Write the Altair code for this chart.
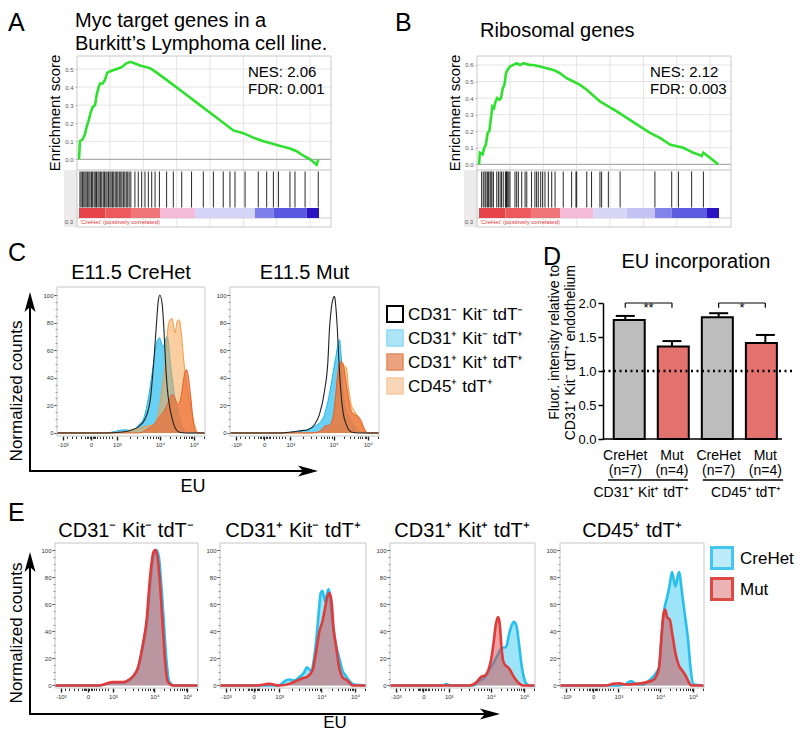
import altair as alt
import pandas as pd

FONT = "Liberation Sans, Arial, Helvetica, sans-serif"
W, H = 786, 724
OX, OY = 8, 8

# ---------------- Panels A / B : GSEA ----------------
GA_RANK = [0, 0.4, 1.5, 2.5, 3.2, 3.9, 4.9, 5.7, 6.7, 7.4, 8.2, 8.8, 9.9, 10.8, 11.8, 13.6, 15.7, 17.8, 19.6, 21.3,
           22.6, 25.4, 29.6, 32.4, 36.5, 43.5, 50.4, 57.4, 64.3, 68.5, 72.6, 76.8, 79.6, 82.4, 85.1, 87.9, 90.7, 93.5,
           96.3, 99.0, 99.7]
GA_ES = [0, 0.1, 0.11, 0.14, 0.18, 0.21, 0.26, 0.29, 0.30, 0.36, 0.40, 0.42, 0.42, 0.44, 0.48, 0.49, 0.50, 0.51, 0.53,
         0.54, 0.535, 0.52, 0.505, 0.48, 0.44, 0.37, 0.30, 0.23, 0.16, 0.145, 0.12, 0.10, 0.09, 0.08, 0.07, 0.06, 0.045,
         0.02, 0.0, -0.03, 0.0]
GA_HITS = [0.4, 0.9, 1.5, 2.0, 2.5, 3.0, 3.6, 4.1, 4.6, 5.2, 5.7, 6.3, 6.8, 7.3, 7.9, 8.4, 9.0, 9.5, 10.1, 10.6, 11.2,
           11.7, 12.3, 12.9, 13.4, 14.0, 14.5, 15.1, 15.7, 16.2, 16.8, 17.4, 17.9, 18.5, 19.1, 19.7, 20.3, 20.9, 21.6,
           23.3, 24.7, 26.1, 27.5, 28.9, 30.3, 31.7, 33.5, 36.5, 39.3, 42.8, 46.9, 51.8, 56.0, 60.1, 62.9, 65.0, 69.2,
           74.7, 78.2, 81.0, 83.1, 87.9, 90.0, 94.2, 99.7]
GB_RANK = [0, 0.4, 1.5, 2.2, 2.9, 3.6, 4.3, 5.0, 5.6, 6.25, 6.9, 7.6, 8.5, 9.2, 9.9, 10.6, 11.25, 11.9, 12.9, 14.3,
           15.7, 17.1, 18.5, 19.9, 21.25, 22.6, 25.4, 28.2, 31.0, 33.75, 36.5, 39.3, 42.1, 44.9, 50.4, 57.4, 64.3,
           71.25, 75.4, 79.6, 82.4, 85.1, 87.9, 89.3, 91.4, 92.8, 93.5, 96.25, 99.7]
GB_ES = [0, 0.07, 0.06, 0.1, 0.12, 0.19, 0.2, 0.28, 0.35, 0.34, 0.38, 0.4, 0.39, 0.4, 0.46, 0.48, 0.55, 0.57, 0.59, 0.6,
         0.61, 0.6, 0.61, 0.605, 0.6, 0.6, 0.59, 0.58, 0.57, 0.55, 0.52, 0.5, 0.48, 0.45, 0.38, 0.32, 0.255, 0.19,
         0.16, 0.12, 0.11, 0.1, 0.08, 0.07, 0.06, 0.05, 0.07, 0.04, 0.0]
GB_HITS = [1.1, 1.8, 2.5, 2.9, 3.5, 4.0, 4.6, 5.0, 5.4, 6.0, 7.4, 8.1, 8.8, 9.4, 10.1, 11.0, 11.3, 11.5, 11.8, 12.4,
           12.9, 15.0, 15.7, 16.4, 17.8, 19.2, 19.9, 21.9, 23.3, 24.0, 24.7, 25.7, 26.5, 27.5, 28.9, 30.3, 31.7, 35.1,
           38.6, 40.4, 40.7, 44.9, 46.9, 50.4, 51.1, 53.9, 58.8, 73.3, 80.3, 83.1, 88.6, 93.5]
SEG_A_START = [0, 11, 22, 33.8, 48.3, 73.3, 81.0, 94.9]
SEG_A_END = [11, 22, 33.8, 48.3, 73.3, 81.0, 94.9, 100]
SEG_A_COLOR = ["#e6444a", "#ec5a60", "#f07579", "#f4bad7", "#d4d4f7", "#8080ea", "#5858e0", "#2c14c0"]
SEG_B_START = [0, 11, 22, 33.8, 47.6, 61.5, 73.3, 80.2, 95.0]
SEG_B_END = [11, 22, 33.8, 47.6, 61.5, 73.3, 80.2, 95.0, 100]
SEG_B_COLOR = ["#e6444a", "#ec5a60", "#f07579", "#f4bad7", "#d6d6f7", "#c3c3f3", "#8282ea", "#5c5ce0", "#2c14c0"]
GRID_RANK = [12.9, 26.8, 40.7, 54.6, 68.5, 82.4, 96.3]
ES_TICKS_A = [0.0, 0.1, 0.2, 0.3, 0.4, 0.5]
ES_TICKS_B = [0.0, 0.1, 0.2, 0.3, 0.4, 0.5, 0.6]

# ---------------- Panel C : flow histograms ----------------
C1_BLK_X = [0, 33, 44, 50.8, 55.3, 59.8, 63.2, 65.4, 67.0, 68.4, 69.5, 71.1, 72.2, 73.3, 74.5, 76.7, 79.0, 82.3, 86.8, 100]
C1_BLK_Y = [0, 0, 0.7, 2.4, 4.8, 10.9, 25.4, 52, 76, 95.4, 100, 93, 76, 52, 32.6, 15.7, 6, 0.7, 0, 0]
C1_CYN_X = [0, 32.8, 46.3, 50.8, 55.3, 58.7, 60.9, 63.2, 65.4, 67.0, 69.3, 71.5, 74.5, 76.7, 79.0, 81.2, 83.5, 85.7, 89.1, 100]
C1_CYN_Y = [0, 0, 2.4, 1.5, 6, 11, 20.5, 35, 52, 64, 69, 62.5, 70, 50, 30, 18, 8, 2, 0, 0]
C1_DOR_X = [0, 55.3, 62.1, 65.4, 68.8, 72.2, 75.6, 77.8, 79.6, 81.9, 84.1, 85.7, 87.3, 88.6, 90.2, 91.8, 93.6, 95.9, 100]
C1_DOR_Y = [0, 0, 3.6, 6, 10.9, 15.7, 23, 27.8, 25, 20.5, 27.8, 40, 46, 42, 28, 11, 1, 0, 0]
C1_LOR_X = [0, 32.8, 53.1, 59.8, 65.4, 68.8, 71.1, 73.3, 74.5, 76.3, 77.8, 79.6, 81.2, 82.6, 84.1, 85.7, 88.0, 90.2,
            91.8, 93.6, 95.4, 100]
C1_LOR_Y = [0, 0, 2.4, 4.8, 6, 15.7, 32.6, 52, 71.3, 82.1, 82.9, 72.5, 80.9, 82, 71.3, 52, 32.6, 20.5, 10.9, 3.6, 0, 0]

C2_BLK_X = [0, 34.1, 40.9, 47.7, 52.2, 56.7, 60.0, 63.4, 65.7, 66.8, 67.9, 69.0, 70.2, 70.9, 72.0, 73.1, 74.2, 75.8,
            78.1, 81.4, 86.0, 100]
C2_BLK_Y = [0, 0, 0.7, 1.7, 2.4, 6, 13.3, 30.2, 51.9, 76.1, 89.4, 96.6, 99, 93, 76.1, 51.9, 32.6, 15.7, 6, 0.7, 0, 0]
C2_CYN_X = [0, 34.1, 45.4, 52.2, 56.7, 60.0, 63.4, 65.7, 67.9, 69.7, 71.3, 72.4, 73.5, 74.7, 75.8, 77.4, 79.2, 81.4,
            84.8, 88.2, 92.7, 100]
C2_CYN_Y = [0, 0, 1.2, 2.4, 4.8, 7.2, 13.3, 22.9, 35, 47.1, 56.8, 64, 67.6, 54.3, 32.6, 18.1, 13.3, 8.5, 3.6, 0.5, 0, 0]
C2_DOR_X = [0, 54.4, 60.0, 63.4, 66.8, 69.0, 70.6, 72.0, 73.3, 74.7, 76.3, 78.1, 79.9, 81.4, 83.7, 86.0, 88.2, 90.4,
            92.7, 100]
C2_DOR_Y = [0, 0, 1.2, 4.8, 6, 10.9, 22.9, 39.9, 49.5, 51.9, 48.3, 35, 22.9, 15.7, 13.3, 12.1, 8.5, 2.4, 0, 0]
C2_LOR_X = [0, 56.7, 65.7, 69.0, 70.6, 72.4, 74.2, 76.5, 78.1, 79.6, 81.4, 83.7, 86.0, 88.2, 90.4, 92.7, 100]
C2_LOR_Y = [0, 0, 2.4, 8.5, 22.9, 42.3, 50.7, 49, 47.1, 32.6, 20.5, 15.7, 10.9, 6, 1.7, 0, 0]

C_LEGEND = ["CD31⁻ Kit⁻ tdT⁻", "CD31⁺ Kit⁻ tdT⁺", "CD31⁺ Kit⁺ tdT⁺", "CD45⁺ tdT⁺"]

# ---------------- Panel D : EU incorporation ----------------
D_LABELS = ["CreHet", "Mut", "CreHet", "Mut"]
D_N = ["(n=7)", "(n=4)", "(n=7)", "(n=4)"]
D_MEAN = [1.75, 1.36, 1.79, 1.41]
D_SEM = [0.06, 0.08, 0.06, 0.12]
D_COLORS = ["#bdbdbd", "#e3716d", "#bdbdbd", "#e3716d"]
D_GROUPS = ["CD31⁺ Kit⁺ tdT⁺", "CD45⁺ tdT⁺"]
D_SIG = ["**", "*"]

# ---------------- Panel E : flow histograms ----------------
E1_CYN_X = [0, 31.1, 40, 47.4, 49.7, 54.4, 57.9, 61.4, 64.4, 66.3, 68.0, 69.6, 70.9, 72.6, 74.3, 76.2, 78.0, 79.8, 83.0, 100]
E1_CYN_Y = [0, 0, 2, 2.2, 2.8, 6.2, 12.5, 29, 48, 72, 90, 98.5, 100, 95, 75, 45, 18, 3, 0, 0]
E1_RED_X = [0, 31.1, 40, 47.4, 49.7, 54.4, 57.9, 61.4, 64.2, 66, 67.6, 69, 70.2, 71.8, 73.5, 75.3, 77, 78.8, 82.3, 100]
E1_RED_Y = [0, 0, 2.5, 2.5, 3, 6.6, 12.8, 30, 49.6, 74, 91, 98.8, 100, 94, 74, 44.7, 17.7, 3, 0, 0]
E2_CYN_X = [0, 40, 45.1, 47.4, 50.8, 54.2, 57.7, 59.5, 62.2, 64.5, 66.3, 67.9, 69.0, 70.2, 72.0, 74.3, 77.0, 79.3,
            81.6, 83.9, 86.1, 88.4, 91.8, 100]
E2_CYN_Y = [0, 0, 3.7, 4.4, 3.7, 6.1, 9.8, 13.4, 11, 20.7, 37.8, 57.3, 68.3, 70, 62.2, 71.2, 47.6, 30.5, 20.7, 11,
            7.3, 3.7, 0.7, 0]
E2_RED_X = [0, 24.6, 33.7, 40.6, 47.4, 52.0, 56.5, 59.9, 63.3, 65.6, 67.9, 70.2, 72.0, 73.6, 75.2, 76.6, 77.7, 79.3,
            81.6, 83.9, 86.1, 88.4, 90.7, 100]
E2_RED_Y = [0, 0, 1.2, 0, 1.2, 3.2, 5.4, 6.6, 11, 23.2, 39, 47.6, 57.3, 65.9, 68.3, 59.8, 42.7, 30.5, 13.4, 6.1, 4.4,
            2.4, 0, 0]
E3_CYN_X = [0, 36, 38.9, 42, 57.3, 61.9, 65.4, 68.8, 71.1, 73.4, 75.7, 77.5, 79.2, 80.3, 82.1, 83.8, 85.4, 87.2, 89.0,
            90.6, 92.3, 94.1, 95.9, 100]
E3_CYN_Y = [0, 0, 1, 0, 0, 3.7, 6, 12, 16, 21, 25.6, 28, 28, 29, 37.8, 44, 47, 44, 30.5, 16, 6, 1.2, 0, 0]
E3_RED_X = [0, 55.0, 59.6, 63.1, 65.4, 67.7, 70.0, 71.6, 73.0, 74.6, 75.7, 76.9, 78.0, 79.8, 81.5, 83.1, 84.9, 87.2,
            89.5, 91.8, 100]
E3_RED_Y = [0, 0, 2.4, 6.6, 7.3, 11, 20.7, 32.9, 45.1, 50.5, 45.1, 28, 18.3, 14.6, 13.4, 11, 7.3, 3.7, 1.2, 0, 0]
E4_CYN_X = [0, 41.2, 45.8, 49.3, 52.7, 57.3, 61.9, 65.4, 67.7, 68.8, 70.6, 72.3, 74.6, 76.2, 77.8, 80.1, 82.6, 84.9,
            86.7, 89.0, 90.6, 92.9, 100]
E4_CYN_Y = [0, 0, 1.2, 3.2, 1.2, 0.7, 3.7, 7.3, 11, 13.4, 37.8, 55.4, 65.9, 74.4, 83.7, 73.2, 83.7, 67.1, 52.4, 32.9,
            13.4, 0.7, 0]
E4_RED_X = [0, 32.0, 36.6, 41.2, 45.8, 52.7, 59.6, 64.2, 66.5, 68.8, 70.6, 71.8, 73.0, 74.6, 76.2, 78.0, 80.3, 82.6,
            84.9, 87.2, 89.5, 91.1, 100]
E4_RED_Y = [0, 0, 1.2, 1.7, 0.7, 1.2, 2.4, 3.7, 6.1, 13.4, 37.8, 52.4, 56.1, 50, 48.8, 37.8, 23.2, 14.6, 11, 7.3, 2.4,
            0, 0]
E_TITLES = ["CD31⁻ Kit⁻ tdT⁻", "CD31⁺ Kit⁻ tdT⁺", "CD31⁺ Kit⁺ tdT⁺", "CD45⁺ tdT⁺"]
E_LEGEND = ["CreHet", "Mut"]

# flow axis ticks (display channel units, 0-100 across the plot box)
FACS_TICK_POS = [4, 23, 40.5, 69.5, 92.5]
FACS_TICK_LAB = ["-10³", "0", "10³", "10⁴", "10⁵"]
FACS_MINOR_X = [7, 10, 13, 16, 19, 20, 21, 22, 24, 25, 26, 27, 29, 31, 33, 35, 37, 49.2, 54.3, 58.0, 60.8, 63.1,
                65.0, 66.7, 68.2, 76.4, 80.5, 83.3, 85.6, 87.4, 88.9, 90.3, 91.4, 99.4]
FACS_MAJOR_Y = [0, 20, 40, 60, 80, 100]
FACS_MINOR_Y = [5, 10, 15, 25, 30, 35, 45, 50, 55, 65, 70, 75, 85, 90, 95]

# ---------------- helpers ----------------
ONE = pd.DataFrame({"k": [0]})
layers = []


def px(v):
    return v - OX


def py(v):
    return v - OY


def add(ch):
    layers.append(ch)


def text(s, x, y, size, align="left", baseline="alphabetic", angle=0, color="black"):
    add(alt.Chart(ONE).mark_text(text=s, font=FONT, fontSize=size, align=align, baseline=baseline,
                                 angle=angle, color=color)
        .encode(x=alt.value(px(x)), y=alt.value(py(y))))


def hline(x1, x2, y, color="black", width=1.0):
    add(alt.Chart(ONE).mark_rule(color=color, strokeWidth=width)
        .encode(x=alt.value(px(x1)), x2=alt.value(px(x2)), y=alt.value(py(y))))


def vline(x, y1, y2, color="black", width=1.0):
    add(alt.Chart(ONE).mark_rule(color=color, strokeWidth=width)
        .encode(x=alt.value(px(x)), y=alt.value(py(y1)), y2=alt.value(py(y2))))


def rect(x1, x2, y1, y2, fill=None, stroke=None, width=1.0):
    kw = {}
    if fill:
        kw["fill"] = fill
    else:
        kw["fillOpacity"] = 0
    if stroke:
        kw["stroke"] = stroke
        kw["strokeWidth"] = width
    add(alt.Chart(ONE).mark_rect(**kw).encode(
        x=alt.value(px(x1)), x2=alt.value(px(x2)), y=alt.value(py(y1)), y2=alt.value(py(y2))))


UP = "M0,-1L0.55,1L0,0.5L-0.55,1Z"
RIGHT = "M1,0L-1,0.55L-0.5,0L-1,-0.55Z"


def head(shape, x, y, size=400):
    add(alt.Chart(ONE).mark_point(shape=shape, size=size, filled=True, color="black", opacity=1, strokeWidth=0)
        .encode(x=alt.value(px(x)), y=alt.value(py(y))))


def square(x, y, side, fill, stroke, sw):
    add(alt.Chart(ONE).mark_square(size=side * side, filled=True, fill=fill, stroke=stroke, strokeWidth=sw,
                                   opacity=1)
        .encode(x=alt.value(px(x)), y=alt.value(py(y))))


# ---------------- GSEA panel builder ----------------
def gsea(bx0, es_dom, es_ticks, rank, es, hits, s0, s1, sc):
    bx1 = bx0 + 254
    xsc = alt.Scale(domain=[-0.83, 105], range=[px(bx0), px(bx1)], nice=False, zero=False)
    ysc = alt.Scale(domain=es_dom, range=[py(170), py(56)], nice=False, zero=False)
    rect(bx0 - 13, bx0, 170, 227, fill="#ececec")
    add(alt.Chart(pd.DataFrame({"r": GRID_RANK})).mark_rule(color="#e4e4e4", strokeWidth=1)
        .encode(x=alt.X("r:Q", scale=xsc, axis=None), y=alt.value(py(56)), y2=alt.value(py(227))))
    ax = alt.Axis(orient="left", offset=-px(bx0), values=es_ticks, format=".1f", title=None, grid=False,
                  domain=False, tickSize=2, tickColor="#aaaaaa", labelFont=FONT, labelFontSize=6,
                  labelColor="#555555", labelPadding=2, labelFlush=False, labelOverlap=False)
    add(alt.Chart(pd.DataFrame({"e": es_ticks})).mark_rule(color="#e4e4e4", strokeWidth=1)
        .encode(y=alt.Y("e:Q", scale=ysc, axis=ax), x=alt.value(px(bx0)), x2=alt.value(px(bx1))))
    add(alt.Chart(pd.DataFrame({"e": [0.0]})).mark_rule(color="#a0a0a0", strokeWidth=1)
        .encode(y=alt.Y("e:Q", scale=ysc, axis=None), x=alt.value(px(bx0)), x2=alt.value(px(bx1))))
    hline(bx0, bx1, 170, color="#bdbdbd")
    hline(bx0, bx1, 218, color="#cfcfcf")
    add(alt.Chart(pd.DataFrame({"r": hits})).mark_rule(color="#111111", strokeWidth=0.9)
        .encode(x=alt.X("r:Q", scale=xsc, axis=None), y=alt.value(py(171.5)), y2=alt.value(py(207.5))))
    add(alt.Chart(pd.DataFrame({"s": s0, "e": s1, "c": sc})).mark_rect()
        .encode(x=alt.X("s:Q", scale=xsc, axis=None), x2="e:Q", y=alt.value(py(208)), y2=alt.value(py(218)),
                color=alt.Color("c:N", scale=None)))
    add(alt.Chart(pd.DataFrame({"r": rank, "es": es})).mark_line(color="#2fe02f", strokeWidth=2.6)
        .encode(x=alt.X("r:Q", scale=xsc, axis=None), y=alt.Y("es:Q", scale=ysc, axis=None)))
    rect(bx0, bx1, 56, 227, stroke="#c8c8c8")
    text("0.3", bx0 - 4, 224, 6, align="right", color="#555555")
    text("'CreHet' (positively correlated)", bx0 + 3, 224, 6, color="#e0393b")


gsea(77, [-0.059, 0.572], ES_TICKS_A, GA_RANK, GA_ES, GA_HITS, SEG_A_START, SEG_A_END, SEG_A_COLOR)
gsea(477, [-0.034, 0.654], ES_TICKS_B, GB_RANK, GB_ES, GB_HITS, SEG_B_START, SEG_B_END, SEG_B_COLOR)

text("A", 8, 31, 25)
text("Myc target genes in a", 75, 27, 20)
text("Burkitt’s Lymphoma cell line.", 75, 50, 20)
text("Enrichment score", 55, 113, 15, align="center", baseline="middle", angle=270)
text("NES: 2.06", 248, 77, 15)
text("FDR: 0.001", 248, 94, 15)
text("B", 395, 31, 25)
text("Ribosomal genes", 480, 37, 20)
text("Enrichment score", 455, 113, 15, align="center", baseline="middle", angle=270)
text("NES: 2.12", 650, 77, 15)
text("FDR: 0.003", 650, 94, 15)

# ---------------- flow panel builder ----------------
LABEL_EXPR = " : ".join(f"datum.value == {p} ? '{l}'" for p, l in zip(FACS_TICK_POS, FACS_TICK_LAB)) + " : ''"


def facs(xl, xr, yt, yb, ydom, curves):
    xsc = alt.Scale(domain=[0, 100], range=[px(xl), px(xr)], nice=False, zero=False)
    ysc = alt.Scale(domain=ydom, range=[py(yb), py(yt)], nice=False, zero=False)
    xoff = py(yb) - H
    yoff = -px(xl)
    ax_x = alt.Axis(orient="bottom", offset=xoff, values=FACS_TICK_POS, labelExpr=LABEL_EXPR, title=None,
                    grid=False, domain=False, tickSize=4, tickWidth=1.4, tickColor="#222222", labelFont=FONT,
                    labelFontSize=6, labelColor="#333333", labelPadding=1, labelFlush=False, labelOverlap=False)
    ax_xm = alt.Axis(orient="bottom", offset=xoff, values=FACS_MINOR_X, labels=False, title=None, grid=False,
                     domain=False, tickSize=2.5, tickWidth=1, tickColor="#333333")
    ax_y = alt.Axis(orient="left", offset=yoff, values=FACS_MAJOR_Y, title=None, grid=False, domain=False,
                    tickSize=3, tickColor="#444444", labelFont=FONT, labelFontSize=6, labelColor="#333333",
                    labelPadding=1, labelFlush=False, labelOverlap=False)
    ax_ym = alt.Axis(orient="left", offset=yoff, values=FACS_MINOR_Y, labels=False, title=None, grid=False,
                     domain=False, tickSize=1.8, tickColor="#666666")
    first = True
    for xs, ys, fill, fop, stroke, sw in curves:
        df = pd.DataFrame({"x": xs, "y": ys})
        if fill:
            enc = dict(x=alt.X("x:Q", scale=xsc, axis=ax_xm if first else None),
                       y=alt.Y("y:Q", scale=ysc, axis=ax_ym if first else None, stack=None))
            first = False
            add(alt.Chart(df).mark_area(color=fill, opacity=fop, interpolate="monotone").encode(**enc))
        enc = dict(x=alt.X("x:Q", scale=xsc, axis=ax_xm if first else None),
                   y=alt.Y("y:Q", scale=ysc, axis=ax_ym if first else None, stack=None))
        first = False
        add(alt.Chart(df).mark_line(color=stroke, strokeWidth=sw, interpolate="monotone").encode(**enc))
    frame = pd.DataFrame({"x0": [0], "x1": [100], "y0": [ydom[0]], "y1": [ydom[1]]})
    add(alt.Chart(frame).mark_rect(fillOpacity=0, stroke="#c6c6c6", strokeWidth=1).encode(
        x=alt.X("x0:Q", scale=xsc, axis=ax_x), x2="x1:Q",
        y=alt.Y("y0:Q", scale=ysc, axis=ax_y), y2="y1:Q"))


CY_F, CY_S = "#29bdee", "#1fb3e6"
DO_F, DO_S = "#ee6e33", "#e2622a"
LO_F, LO_S = "#f5a552", "#f09a45"
C_DOM = [-2.2, 105.8]
for xl, xr, bx, by, cx, cy, dx, dy, lx, ly in [
    (57, 205, C1_BLK_X, C1_BLK_Y, C1_CYN_X, C1_CYN_Y, C1_DOR_X, C1_DOR_Y, C1_LOR_X, C1_LOR_Y),
    (230, 379, C2_BLK_X, C2_BLK_Y, C2_CYN_X, C2_CYN_Y, C2_DOR_X, C2_DOR_Y, C2_LOR_X, C2_LOR_Y),
]:
    facs(xl, xr, 287, 436, C_DOM, [
        (cx, cy, CY_F, 0.7, CY_S, 1.0),
        (lx, ly, LO_F, 0.55, LO_S, 1.0),
        (dx, dy, DO_F, 0.7, DO_S, 1.0),
        (bx, by, None, 1, "#222222", 1.1),
    ])

EC_F, EC_S = "#3ccaf2", "#27bfee"
ER_F, ER_S = "#d84848", "#e03a3a"
E_DOM = [-1.85, 105.2]
for xl, xr, cx, cy, rx, ry in [
    (55, 198, E1_CYN_X, E1_CYN_Y, E1_RED_X, E1_RED_Y),
    (220, 366, E2_CYN_X, E2_CYN_Y, E2_RED_X, E2_RED_Y),
    (390, 535, E3_CYN_X, E3_CYN_Y, E3_RED_X, E3_RED_Y),
    (560, 704, E4_CYN_X, E4_CYN_Y, E4_RED_X, E4_RED_Y),
]:
    facs(xl, xr, 543, 688, E_DOM, [
        (cx, cy, EC_F, 0.5, EC_S, 2.6),
        (rx, ry, ER_F, 0.5, ER_S, 2.6),
    ])

# panel C texts, arrows, legend
text("C", 8, 261, 25)
text("E11.5 CreHet", 131, 279, 20, align="center")
text("E11.5 Mut", 304.5, 279, 20, align="center")
vline(30, 471, 300, width=2)
hline(29, 305, 471, width=2)
head(UP, 30, 302)
head(RIGHT, 308, 471)
text("Normalized counts", 17, 391, 17, align="center", baseline="middle", angle=270)
text("EU", 193, 492, 18, align="center")
C_LEG_STYLE = [("white", "black", 2), ("#ade5f7", "#8ad9f3", 1.5), ("#eba27e", "#e58a5c", 1.5),
               ("#f8d7b8", "#f5c89e", 1.5)]
for i, (lab, (f, s, w)) in enumerate(zip(C_LEGEND, C_LEG_STYLE)):
    yy = 314 + 24 * i
    square(395, yy, 16, f, s, w)
    text(lab, 408, yy + 1, 17, baseline="middle")

# panel E texts, arrows, legend
text("E", 8, 521, 25)
for t, cxp in zip(E_TITLES, [126, 293, 462, 632]):
    text(t, cxp, 537, 20, align="center")
vline(30, 714, 560, width=2)
hline(29, 487, 714, width=2)
head(UP, 30, 562)
head(RIGHT, 490, 714)
text("Normalized counts", 17, 633, 17, align="center", baseline="middle", angle=270)
text("EU", 335, 728, 17, align="center")
square(722, 558, 21, "#bdebf9", "#43c6ef", 3)
square(722, 589, 21, "#ebb3b3", "#dc4a45", 3)
text(E_LEGEND[0], 740, 559, 17, baseline="middle")
text(E_LEGEND[1], 740, 590, 17, baseline="middle")

# ---------------- panel D ----------------
dxs = alt.Scale(domain=[-0.4, 3.4], range=[px(606.6), px(784)], nice=False, zero=False)
dys = alt.Scale(domain=[0, 2], range=[py(439), py(303)], nice=False, zero=False)
dfD = pd.DataFrame({"i": list(range(len(D_MEAN))), "lab": D_LABELS, "n": D_N, "m": D_MEAN,
                    "top": [m + s for m, s in zip(D_MEAN, D_SEM)], "c": D_COLORS})
d_axis = alt.Axis(orient="left", offset=-px(603), values=[0, 0.5, 1.0, 1.5, 2.0], format=".1f", title=None,
                  grid=False, domainColor="black", domainWidth=1.5, tickColor="black", tickWidth=1.5, tickSize=5,
                  labelFont=FONT, labelFontSize=13, labelColor="black", labelPadding=2, labelFlush=False,
                  labelOverlap=False)
add(alt.Chart(dfD).mark_rule(color="black", strokeWidth=2)
    .encode(x=alt.X("i:Q", scale=dxs, axis=None), y=alt.Y("m:Q", scale=dys, axis=None), y2="top:Q"))
add(alt.Chart(dfD).mark_tick(orient="horizontal", size=19, thickness=2, color="black", opacity=1)
    .encode(x=alt.X("i:Q", scale=dxs, axis=None), y=alt.Y("top:Q", scale=dys, axis=None)))
add(alt.Chart(dfD).mark_bar(size=31, stroke="black", strokeWidth=2)
    .encode(x=alt.X("i:Q", scale=dxs, axis=None), y=alt.Y("m:Q", scale=dys, axis=d_axis, stack=None),
            fill=alt.Fill("c:N", scale=None)))
add(alt.Chart(pd.DataFrame({"v": [1.0]})).mark_rule(color="black", strokeWidth=2.6, strokeDash=[2, 3.5])
    .encode(y=alt.Y("v:Q", scale=dys, axis=None), x=alt.value(px(603)), x2=alt.value(px(802))))
add(alt.Chart(pd.DataFrame({"v": [0.0]})).mark_rule(color="black", strokeWidth=1.5)
    .encode(y=alt.Y("v:Q", scale=dys, axis=None), x=alt.value(px(603)), x2=alt.value(px(782))))
dfS = pd.DataFrame({"a": [0, 2], "b": [1, 3], "mid": [0.5, 2.5], "y": [2.0, 2.0], "y2": [1.93, 1.93], "s": D_SIG})
add(alt.Chart(dfS).mark_rule(color="black", strokeWidth=1.2)
    .encode(x=alt.X("a:Q", scale=dxs, axis=None), x2="b:Q", y=alt.Y("y:Q", scale=dys, axis=None)))
add(alt.Chart(dfS).mark_rule(color="black", strokeWidth=1.2)
    .encode(x=alt.X("a:Q", scale=dxs, axis=None), y=alt.Y("y:Q", scale=dys, axis=None), y2="y2:Q"))
add(alt.Chart(dfS).mark_rule(color="black", strokeWidth=1.2)
    .encode(x=alt.X("b:Q", scale=dxs, axis=None), y=alt.Y("y:Q", scale=dys, axis=None), y2="y2:Q"))
add(alt.Chart(dfS).mark_text(font=FONT, fontSize=13, dy=5, color="black")
    .encode(x=alt.X("mid:Q", scale=dxs, axis=None), y=alt.Y("y:Q", scale=dys, axis=None), text="s:N"))
add(alt.Chart(dfD).mark_text(font=FONT, fontSize=14, color="black")
    .encode(x=alt.X("i:Q", scale=dxs, axis=None), y=alt.value(py(456)), text="lab:N"))
add(alt.Chart(dfD).mark_text(font=FONT, fontSize=14, color="black")
    .encode(x=alt.X("i:Q", scale=dxs, axis=None), y=alt.value(py(471)), text="n:N"))
add(alt.Chart(pd.DataFrame({"s": [-0.37, 1.66], "e": [1.34, 3.38]})).mark_rule(color="black", strokeWidth=1.5)
    .encode(x=alt.X("s:Q", scale=dxs, axis=None), x2="e:Q", y=alt.value(py(480))))
text(D_GROUPS[0], 641, 497, 14, align="center")
text(D_GROUPS[1], 746, 497, 14, align="center")
text("D", 543, 265, 25)
text("EU incorporation", 696, 268, 20, align="center")
text("Fluor. intensity relative to", 555, 265, 14, align="right", baseline="middle", angle=270)
text("CD31⁺ Kit⁻ tdT⁺ endothelium", 571, 265, 14, align="right", baseline="middle", angle=270)

chart = (alt.layer(*layers)
         .resolve_scale(x="independent", y="independent")
         .properties(width=W, height=H, padding=0, background="white",
                     autosize=alt.AutoSizeParams(type="none"))
         .configure_view(strokeWidth=0))

chart.save("out.html", embed_options={"renderer": "svg", "actions": False})
